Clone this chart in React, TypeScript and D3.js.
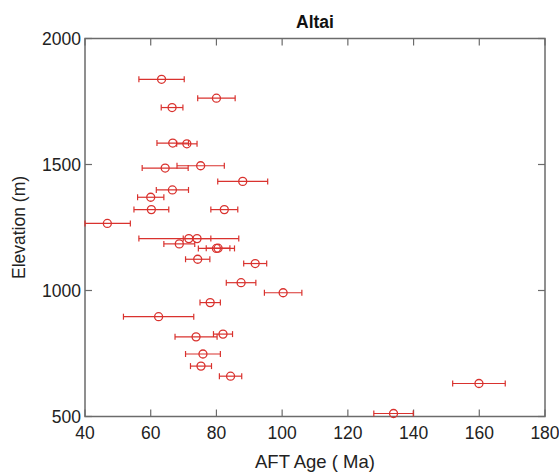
import React, { useEffect, useRef } from "react";
import * as d3 from "d3";

// AFT age (Ma), elevation (m), 1-sigma error (Ma)
const ages = [63.3, 80.0, 66.5, 66.7, 71.0, 64.4, 75.2, 88.0, 66.6, 60.0, 60.2, 82.4, 46.8,
  71.6, 74.1, 68.7, 80.0, 80.5, 74.3, 91.8, 87.5, 100.3, 78.1, 62.4, 82.0, 73.8, 75.9, 75.3,
  84.3, 159.9, 133.9];
const elevations = [1838, 1763, 1726, 1585, 1582, 1486, 1495, 1433, 1399, 1370, 1321, 1321, 1266,
  1206, 1206, 1185, 1167, 1168, 1124, 1107, 1031, 991, 952, 896, 827, 816, 748, 700,
  660, 631, 512];
const errors = [6.9, 5.7, 3.3, 4.8, 3.1, 7.0, 7.2, 7.6, 4.9, 4.0, 5.3, 4.1, 7.0,
  15.2, 4.2, 4.7, 5.5, 3.6, 3.7, 3.5, 4.5, 5.7, 3.1, 10.7, 2.9, 6.4, 5.3, 3.2,
  3.4, 8.0, 6.0];

const xTicks = [40, 60, 80, 100, 120, 140, 160, 180];
const yTicks = [500, 1000, 1500, 2000];

const RED = "#d9322e";
const AXIS = "#6b6b6b";

export default function App() {
  const svgRef = useRef<SVGSVGElement>(null);

  useEffect(() => {
    const width = 559;
    const height = 474;
    const margin = { top: 38.5, right: 14, bottom: 57.5, left: 85 };
    const innerW = width - margin.left - margin.right;
    const innerH = height - margin.top - margin.bottom;

    const svg = d3.select(svgRef.current);
    svg.selectAll("*").remove();

    const g = svg.append("g").attr("transform", `translate(${margin.left},${margin.top})`);

    const x = d3.scaleLinear().domain([40, 180]).range([0, innerW]);
    const y = d3.scaleLinear().domain([500, 2000]).range([innerH, 0]);

    const font = "Liberation Sans, Arial, sans-serif";

    // frame
    g.append("rect")
      .attr("width", innerW)
      .attr("height", innerH)
      .attr("fill", "none")
      .attr("stroke", AXIS)
      .attr("stroke-width", 1.5);

    const tl = 7;
    // ticks on all four sides, pointing inward
    xTicks.forEach((t) => {
      g.append("line").attr("x1", x(t)).attr("x2", x(t)).attr("y1", innerH).attr("y2", innerH - tl)
        .attr("stroke", AXIS).attr("stroke-width", 1.2);
      g.append("line").attr("x1", x(t)).attr("x2", x(t)).attr("y1", 0).attr("y2", tl)
        .attr("stroke", AXIS).attr("stroke-width", 1.2);
      g.append("text")
        .attr("x", x(t))
        .attr("y", innerH + 22)
        .attr("text-anchor", "middle")
        .attr("font-family", font)
        .attr("font-size", 17.5)
        .attr("fill", "#222")
        .text(t);
    });

    yTicks.forEach((t) => {
      g.append("line").attr("x1", 0).attr("x2", tl).attr("y1", y(t)).attr("y2", y(t))
        .attr("stroke", AXIS).attr("stroke-width", 1.2);
      g.append("line").attr("x1", innerW).attr("x2", innerW - tl).attr("y1", y(t)).attr("y2", y(t))
        .attr("stroke", AXIS).attr("stroke-width", 1.2);
      g.append("text")
        .attr("x", -4)
        .attr("y", y(t) + 6)
        .attr("text-anchor", "end")
        .attr("font-family", font)
        .attr("font-size", 17.5)
        .attr("fill", "#222")
        .text(t);
    });

    const pts = ages.map((a, i) => ({ a, e: elevations[i], err: errors[i] }));

    const marks = g.append("g");
    pts.forEach((p) => {
      const x0 = Math.max(x(p.a - p.err), 0);
      const x1 = x(p.a + p.err);
      const cy = y(p.e);
      marks.append("line").attr("x1", x0).attr("x2", x1).attr("y1", cy).attr("y2", cy)
        .attr("stroke", RED).attr("stroke-width", 1.2);
      [x0, x1].forEach((cx) => {
        marks.append("line").attr("x1", cx).attr("x2", cx).attr("y1", cy - 3).attr("y2", cy + 3)
          .attr("stroke", RED).attr("stroke-width", 1.2);
      });
      marks.append("circle")
        .attr("cx", x(p.a))
        .attr("cy", cy)
        .attr("r", 4)
        .attr("fill", "none")
        .attr("stroke", RED)
        .attr("stroke-width", 1.3);
    });

    svg.append("text")
      .attr("x", margin.left + innerW / 2)
      .attr("y", 27.5)
      .attr("text-anchor", "middle")
      .attr("font-family", font)
      .attr("font-weight", "bold")
      .attr("font-size", 17.5)
      .attr("fill", "#111")
      .text("Altai");

    svg.append("text")
      .attr("x", margin.left + innerW / 2)
      .attr("y", 468)
      .attr("text-anchor", "middle")
      .attr("font-family", font)
      .attr("font-size", 18.5)
      .attr("fill", "#222")
      .text("AFT Age ( Ma)");

    svg.append("text")
      .attr("transform", `translate(25,${margin.top + innerH / 2}) rotate(-90)`)
      .attr("text-anchor", "middle")
      .attr("font-family", font)
      .attr("font-size", 17.5)
      .attr("fill", "#222")
      .text("Elevation (m)");
  }, []);

  return (
    <svg
      ref={svgRef}
      width={559}
      height={474}
      style={{ position: "absolute", left: 0, top: 0, background: "#fff" }}
    />
  );
}
